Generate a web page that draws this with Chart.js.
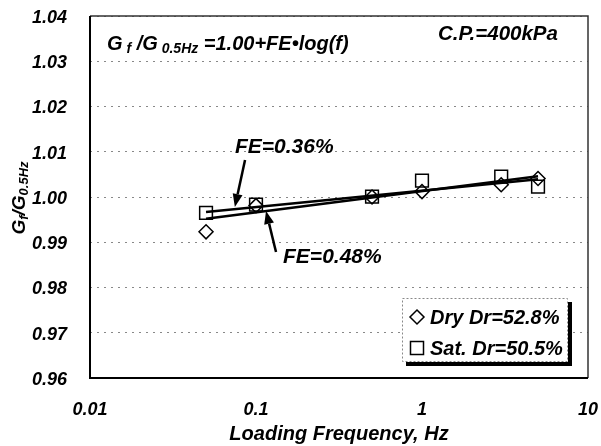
<!DOCTYPE html>
<html>
<head>
<meta charset="utf-8">
<script src="https://cdn.jsdelivr.net/npm/chart.js@4/dist/chart.umd.min.js"></script>
<style>
  html, body { margin: 0; padding: 0; background: #fff; }
  #wrap { width: 601px; height: 446px; position: relative; }
</style>
</head>
<body>
<div id="wrap"><canvas id="c" width="601" height="446"></canvas></div>
<script>
// ---- data ----
const frequencies = [0.05, 0.1, 0.5, 1, 3, 5];
const dryValues   = [0.9923, 0.9981, 1.0000, 1.0012, 1.0027, 1.0041];
const satValues   = [0.9965, 0.9983, 1.0001, 1.0036, 1.0045, 1.0023];
const fitFreqs    = [0.05, 5];
const dryFit      = [0.9952, 1.0046];
const satFit      = [0.9967, 1.0039];
const xTickValues = [0.01, 0.1, 1, 10];
const xTickLabels = ['0.01', '0.1', '1', '10'];
const yTickValues = [0.96, 0.97, 0.98, 0.99, 1.00, 1.01, 1.02, 1.03, 1.04];
const yTickLabels = ['0.96', '0.97', '0.98', '0.99', '1.00', '1.01', '1.02', '1.03', '1.04'];
const seriesNames = ['Dry Dr=52.8%', 'Sat. Dr=50.5%'];
const fitLabels   = ['FE=0.48%', 'FE=0.36%'];

const FAM = '"Liberation Sans", Arial, sans-serif';
const fnt = (s) => 'italic bold ' + s + 'px ' + FAM;

function pts(xs, ys) { return xs.map((x, i) => ({ x: x, y: ys[i] })); }

function drawRich(ctx, parts, x, y) {
  let cx = x;
  parts.forEach(p => {
    ctx.font = fnt(p.s);
    ctx.fillText(p.t, cx, y + (p.dy || 0));
    cx += ctx.measureText(p.t).width;
  });
}

function arrow(ctx, x1, y1, x2, y2) {
  const ang = Math.atan2(y2 - y1, x2 - x1);
  const L = 13, W = 5;
  const bx = x2 - L * Math.cos(ang), by = y2 - L * Math.sin(ang);
  ctx.beginPath();
  ctx.moveTo(x1, y1); ctx.lineTo(bx, by);
  ctx.lineWidth = 2.5; ctx.strokeStyle = '#000'; ctx.stroke();
  ctx.beginPath();
  ctx.moveTo(x2, y2);
  ctx.lineTo(bx + W * Math.sin(ang), by - W * Math.cos(ang));
  ctx.lineTo(bx - W * Math.sin(ang), by + W * Math.cos(ang));
  ctx.closePath(); ctx.fillStyle = '#000'; ctx.fill();
}

const decor = {
  id: 'decor',
  afterDatasetsDraw(chart) {
    const ctx = chart.ctx, a = chart.chartArea;
    const xs = chart.scales.x, ys = chart.scales.y;
    const px = v => xs.getPixelForValue(v), py = v => ys.getPixelForValue(v);
    ctx.save();
    // frame
    ctx.strokeStyle = '#333'; ctx.lineWidth = 1.5;
    ctx.beginPath(); ctx.moveTo(a.left, a.top); ctx.lineTo(a.right, a.top); ctx.lineTo(a.right, a.bottom); ctx.stroke();
    ctx.strokeStyle = '#000'; ctx.lineWidth = 2;
    ctx.beginPath(); ctx.moveTo(a.left, a.top); ctx.lineTo(a.left, a.bottom); ctx.lineTo(a.right, a.bottom); ctx.stroke();

    ctx.fillStyle = '#000';
    ctx.textBaseline = 'alphabetic'; ctx.textAlign = 'left';
    // equation
    drawRich(ctx, [
      { t: 'G', s: 20 }, { t: ' f', s: 14, dy: 3 }, { t: ' /G', s: 20 },
      { t: ' 0.5Hz', s: 14, dy: 3 }, { t: ' =1.00+FE\u2022log(f)', s: 20 }
    ], px(0.01266), py(1.0325));
    // confining pressure
    ctx.font = fnt(20.5);
    ctx.fillText('C.P.=400kPa', px(1.249), py(1.0347));
    // FE labels
    ctx.font = fnt(21);
    ctx.fillText(fitLabels[1], px(0.0747), py(1.0097));
    ctx.fillText(fitLabels[0], px(0.1455), py(0.9854));
    // arrows
    arrow(ctx, px(0.0859), py(1.0082), px(0.0746), py(0.9978));
    arrow(ctx, px(0.1320), py(0.98785), px(0.1149), py(0.9969));

    // legend box
    const lx = a.right - 186, ly = a.bottom - 80, lw = 166, lh = 64;
    ctx.fillStyle = '#000';
    ctx.fillRect(lx + 4, ly + 4, lw, lh);
    ctx.fillStyle = '#fff';
    ctx.fillRect(lx, ly, lw, lh);
    ctx.strokeStyle = '#888'; ctx.lineWidth = 1; ctx.setLineDash([2, 2]);
    ctx.strokeRect(lx + 0.5, ly + 0.5, lw - 1, lh - 1);
    ctx.setLineDash([]);
    const mx = lx + 15, y1 = ly + 19, y2 = ly + 50;
    ctx.strokeStyle = '#000'; ctx.lineWidth = 1.5;
    ctx.beginPath();
    ctx.moveTo(mx, y1 - 7); ctx.lineTo(mx + 7, y1); ctx.lineTo(mx, y1 + 7); ctx.lineTo(mx - 7, y1); ctx.closePath();
    ctx.stroke();
    ctx.strokeRect(mx - 6.5, y2 - 6.5, 13, 13);
    ctx.fillStyle = '#000'; ctx.font = fnt(20); ctx.textBaseline = 'middle';
    ctx.fillText(seriesNames[0], lx + 28, y1 + 1);
    ctx.fillText(seriesNames[1], lx + 28, y2 + 1);

    // axis titles
    ctx.textBaseline = 'alphabetic';
    ctx.textAlign = 'center';
    ctx.font = fnt(20);
    ctx.fillText('Loading Frequency, Hz', (a.left + a.right) / 2, 440);
    // y title (rotated)
    ctx.save();
    ctx.translate(25, (a.top + a.bottom) / 2 + 1);
    ctx.rotate(-Math.PI / 2);
    const parts = [{ t: 'G', s: 19 }, { t: 'f', s: 13, dy: 3 }, { t: '/G', s: 19 }, { t: '0.5Hz', s: 13, dy: 3 }];
    let tw = 0;
    parts.forEach(p => { ctx.font = fnt(p.s); tw += ctx.measureText(p.t).width; });
    ctx.textAlign = 'left';
    drawRich(ctx, parts, -tw / 2, 0);
    ctx.restore();
    ctx.restore();
  }
};

new Chart(document.getElementById('c'), {
  type: 'scatter',
  data: {
    datasets: [
      { label: seriesNames[0], data: pts(frequencies, dryValues), pointStyle: 'rectRot', pointRadius: 7, pointHoverRadius: 7,
        borderColor: '#000', backgroundColor: 'rgba(0,0,0,0)', pointBorderWidth: 1.5, showLine: false },
      { label: seriesNames[1], data: pts(frequencies, satValues), pointStyle: 'rect', pointRadius: 9, pointHoverRadius: 9,
        borderColor: '#000', backgroundColor: 'rgba(0,0,0,0)', pointBorderWidth: 1.5, showLine: false },
      { label: 'fitDry', data: pts(fitFreqs, dryFit), showLine: true, pointRadius: 0, borderColor: '#000', borderWidth: 2.5 },
      { label: 'fitSat', data: pts(fitFreqs, satFit), showLine: true, pointRadius: 0, borderColor: '#000', borderWidth: 2.5 }
    ]
  },
  options: {
    responsive: false,
    animation: false,
    events: [],
    layout: { padding: { top: 16, right: 13, left: 0, bottom: 0 } },
    plugins: { legend: { display: false }, tooltip: { enabled: false } },
    scales: {
      x: {
        type: 'logarithmic', min: 0.01, max: 10,
        afterBuildTicks: s => { s.ticks = xTickValues.map(v => ({ value: v })); },
        afterFit: s => { s.height = 68; s.paddingLeft = 0; s.paddingRight = 0; },
        grid: { display: false, drawTicks: false },
        border: { display: false },
        ticks: {
          color: '#000', padding: 21, maxRotation: 0, autoSkip: false,
          font: { family: FAM, size: 18, style: 'italic', weight: 'bold' },
          callback: (v) => { const i = xTickValues.indexOf(v); return i >= 0 ? xTickLabels[i] : ''; }
        }
      },
      y: {
        min: 0.96, max: 1.04,
        afterBuildTicks: s => { s.ticks = yTickValues.map(v => ({ value: v })); },
        afterFit: s => { s.width = 90; s.paddingTop = 0; s.paddingBottom = 0; },
        grid: { color: '#888', lineWidth: 1, drawTicks: false },
        border: { display: false, dash: [2, 5] },
        ticks: {
          color: '#000', padding: 23, autoSkip: false, labelOffset: 2,
          font: { family: FAM, size: 18, style: 'italic', weight: 'bold' },
          callback: function (v, i) { return yTickLabels[i]; }
        }
      }
    }
  },
  plugins: [decor]
});
</script>
</body>
</html>
